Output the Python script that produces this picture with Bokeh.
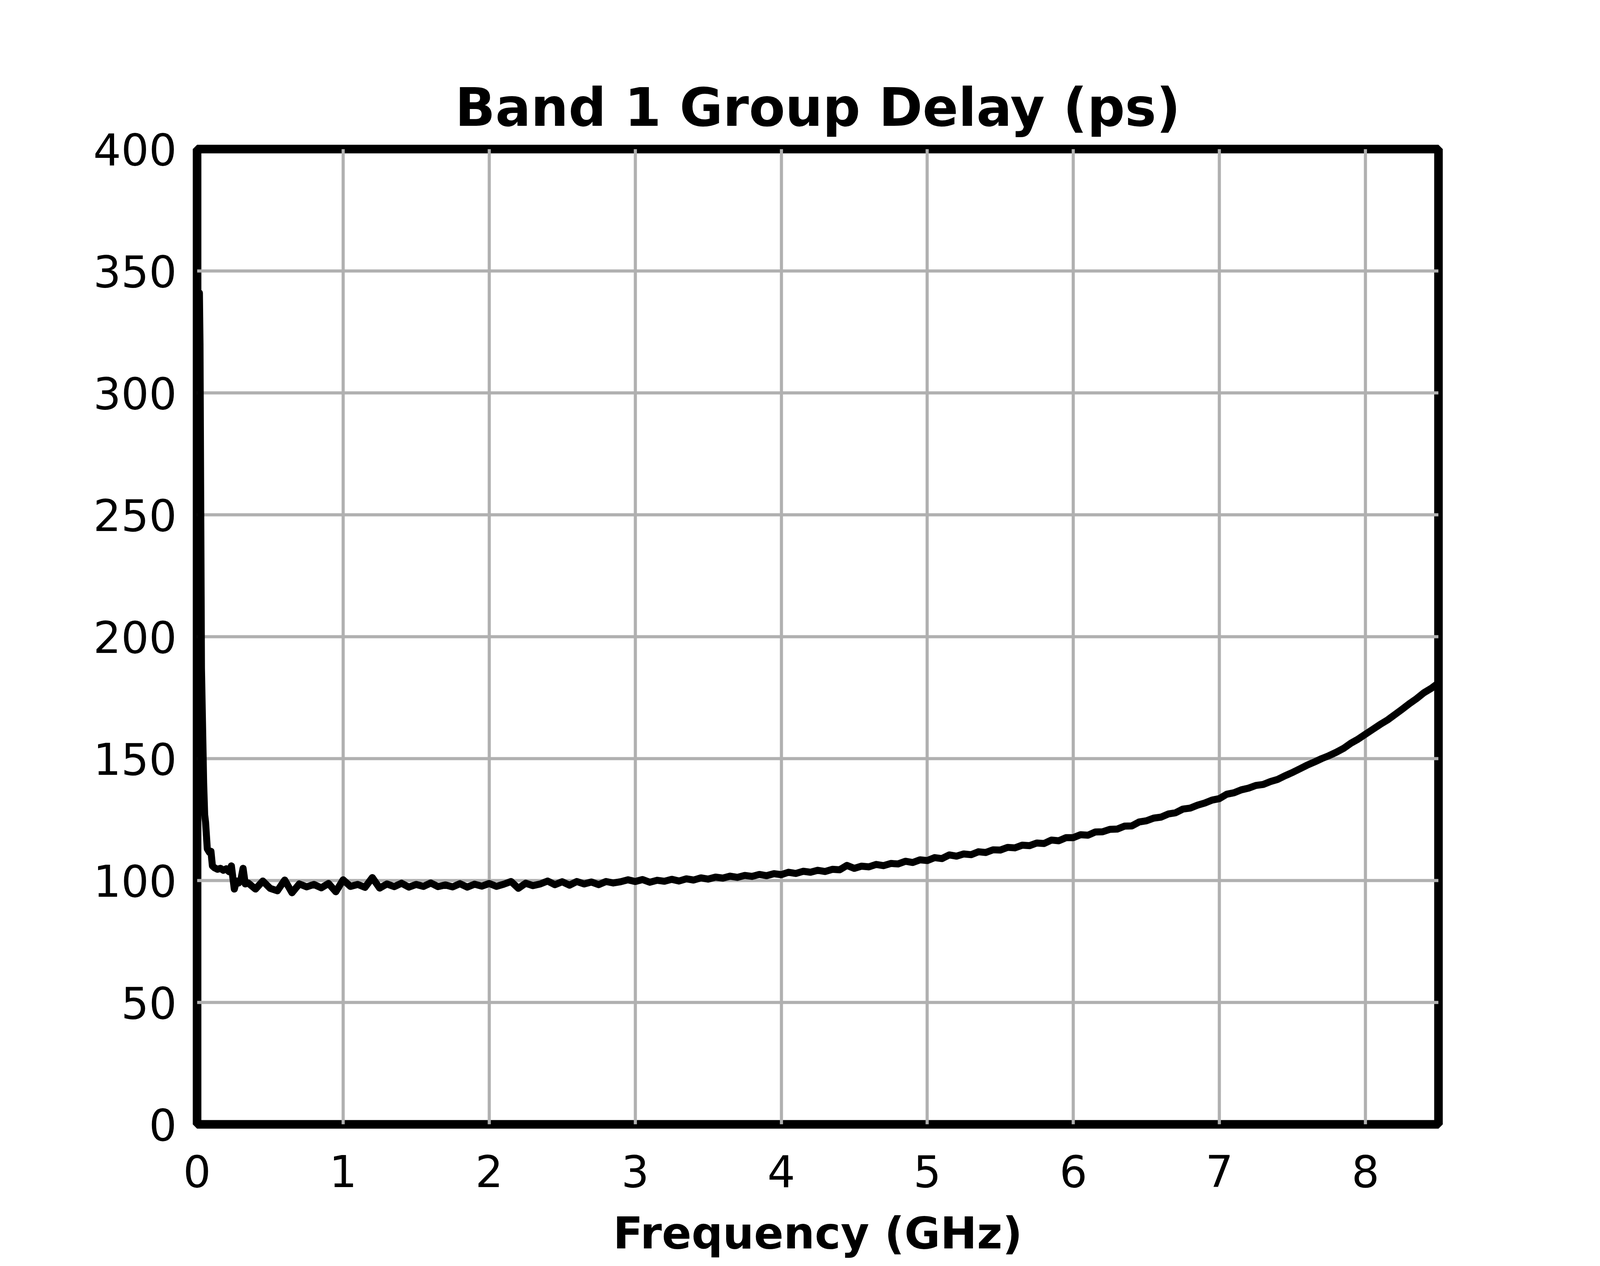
from bokeh.plotting import figure
from bokeh.models import FixedTicker
from bokeh.embed import file_html
from bokeh.resources import INLINE

# ---- data ----
freq_start = [0.0, 0.016, 0.02, 0.03, 0.045, 0.052, 0.058, 0.07, 0.085, 0.095,
              0.105, 0.12, 0.14, 0.16, 0.18, 0.20, 0.22, 0.235, 0.255, 0.27,
              0.285, 0.30, 0.315, 0.33]
delay_start = [136.0, 341.0, 320.0, 187.0, 140.0, 127.0, 124.0, 113.0, 111.5, 112.0,
               106.0, 105.2, 104.6, 105.0, 104.2, 104.8, 103.6, 106.0, 96.5, 99.8,
               99.0, 100.4, 105.0, 98.6]

freq_main = [0.35, 0.40, 0.45, 0.50, 0.55, 0.60, 0.65, 0.70, 0.75, 0.80,
             0.85, 0.90, 0.95, 1.00, 1.05, 1.10, 1.15, 1.20, 1.25, 1.30,
             1.35, 1.40, 1.45, 1.50, 1.55, 1.60, 1.65, 1.70, 1.75, 1.80,
             1.85, 1.90, 1.95, 2.00, 2.05, 2.10, 2.15, 2.20, 2.25, 2.30,
             2.35, 2.40, 2.45, 2.50, 2.55, 2.60, 2.65, 2.70, 2.75, 2.80,
             2.85, 2.90, 2.95, 3.00, 3.05, 3.10, 3.15, 3.20, 3.25, 3.30,
             3.35, 3.40, 3.45, 3.50, 3.55, 3.60, 3.65, 3.70, 3.75, 3.80,
             3.85, 3.90, 3.95, 4.00, 4.05, 4.10, 4.15, 4.20, 4.25, 4.30,
             4.35, 4.40, 4.45, 4.50, 4.55, 4.60, 4.65, 4.70, 4.75, 4.80,
             4.85, 4.90, 4.95, 5.00, 5.05, 5.10, 5.15, 5.20, 5.25, 5.30,
             5.35, 5.40, 5.45, 5.50, 5.55, 5.60, 5.65, 5.70, 5.75, 5.80,
             5.85, 5.90, 5.95, 6.00, 6.05, 6.10, 6.15, 6.20, 6.25, 6.30,
             6.35, 6.40, 6.45, 6.50, 6.55, 6.60, 6.65, 6.70, 6.75, 6.80,
             6.85, 6.90, 6.95, 7.00, 7.05, 7.10, 7.15, 7.20, 7.25, 7.30,
             7.35, 7.40, 7.45, 7.50, 7.55, 7.60, 7.65, 7.70, 7.75, 7.80,
             7.85, 7.90, 7.95, 8.00, 8.05, 8.10, 8.15, 8.20, 8.25, 8.30,
             8.35, 8.40, 8.45, 8.50]
delay_main = [99.0, 96.5, 99.8, 96.8, 95.8, 100.2, 95.0, 98.6, 97.4, 98.4,
              97.0, 98.8, 95.4, 100.3, 97.6, 98.4, 97.2, 101.2, 96.9, 98.6,
              97.5, 98.9, 97.3, 98.4, 97.6, 99.0, 97.5, 98.2, 97.4, 98.7,
              97.3, 98.5, 97.7, 98.8, 97.6, 98.5, 99.6, 96.8, 98.9, 97.9,
              98.6, 99.8, 98.3, 99.5, 98.1, 99.6, 98.6, 99.4, 98.3, 99.6,
              99.0, 99.5, 100.3, 99.6, 100.4, 99.3, 100.1, 99.7, 100.5, 99.8,
              100.7, 100.2, 101.1, 100.6, 101.4, 101.0, 101.8, 101.3, 102.1, 101.7,
              102.5, 102.0, 102.8, 102.4, 103.4, 102.9, 103.8, 103.4, 104.2, 103.7,
              104.6, 104.4, 106.2, 105.0, 105.9, 105.6, 106.6, 106.1, 107.0, 106.8,
              107.9, 107.4, 108.5, 108.2, 109.4, 109.0, 110.5, 110.0, 110.9, 110.6,
              111.8, 111.5, 112.6, 112.5, 113.6, 113.4, 114.5, 114.3, 115.4, 115.2,
              116.6, 116.3, 117.6, 117.6, 118.8, 118.6, 119.9, 120.0, 121.0, 121.1,
              122.3, 122.4, 124.0, 124.5, 125.6, 126.0, 127.3, 127.8, 129.3, 129.7,
              130.9, 131.8, 133.0, 133.6, 135.4, 136.0, 137.2, 137.9, 139.0, 139.4,
              140.6, 141.5, 143.0, 144.3, 145.8, 147.3, 148.6, 150.0, 151.2, 152.6,
              154.2, 156.3, 158.0, 160.0, 162.0, 164.0, 165.8, 168.0, 170.2, 172.5,
              174.6, 177.0, 178.8, 181.0]

x_ticks = [0, 1, 2, 3, 4, 5, 6, 7, 8]
y_ticks = [0, 50, 100, 150, 200, 250, 300, 350, 400]

freq = freq_start + freq_main
delay = delay_start + delay_main

FONT = "DejaVu Sans"

# The browser viewport is 4096 px wide (measured), so the page is laid out to fit it.
p = figure(width=4080, height=3224, x_range=(0, 8.5), y_range=(0, 400),
           output_backend="svg", toolbar_location=None,
           title="Band 1 Group Delay (ps)")
p.min_border_left = 504
p.min_border_right = 398
p.min_border_top = 381
p.min_border_bottom = 347
p.background_fill_color = "white"
p.border_fill_color = "white"

p.title.text_font = FONT
p.title.text_font_size = "135px"
p.title.text_font_style = "bold"
p.title.align = "center"
p.title.text_color = "black"
p.title.standoff = 56

p.outline_line_color = "black"
p.outline_line_width = 22
p.outline_line_alpha = 1.0

p.xaxis.ticker = FixedTicker(ticks=x_ticks)
p.yaxis.ticker = FixedTicker(ticks=y_ticks)
p.xgrid.ticker = FixedTicker(ticks=x_ticks)
p.ygrid.ticker = FixedTicker(ticks=y_ticks)
for g in (p.xgrid, p.ygrid):
    g.grid_line_color = "#b0b0b0"
    g.grid_line_width = 8

for ax in (p.xaxis, p.yaxis):
    ax.axis_line_color = None
    ax.major_tick_line_color = None
    ax.minor_tick_line_color = None
    ax.major_tick_in = 0
    ax.major_tick_out = 0
    ax.minor_tick_in = 0
    ax.minor_tick_out = 0
    ax.major_label_text_font = FONT
    ax.major_label_text_font_size = "112px"
    ax.major_label_text_color = "black"

p.xaxis.major_label_standoff = 78
p.yaxis.major_label_standoff = 52

p.xaxis.axis_label = "Frequency (GHz)"
p.xaxis.axis_label_text_font = FONT
p.xaxis.axis_label_text_font_size = "112px"
p.xaxis.axis_label_text_font_style = "bold"
p.xaxis.axis_label_text_color = "black"
p.xaxis.axis_label_standoff = 50

p.line(freq, delay, line_color="black", line_width=18, line_join="round")

open("out.html", "w").write(file_html(p, INLINE))
